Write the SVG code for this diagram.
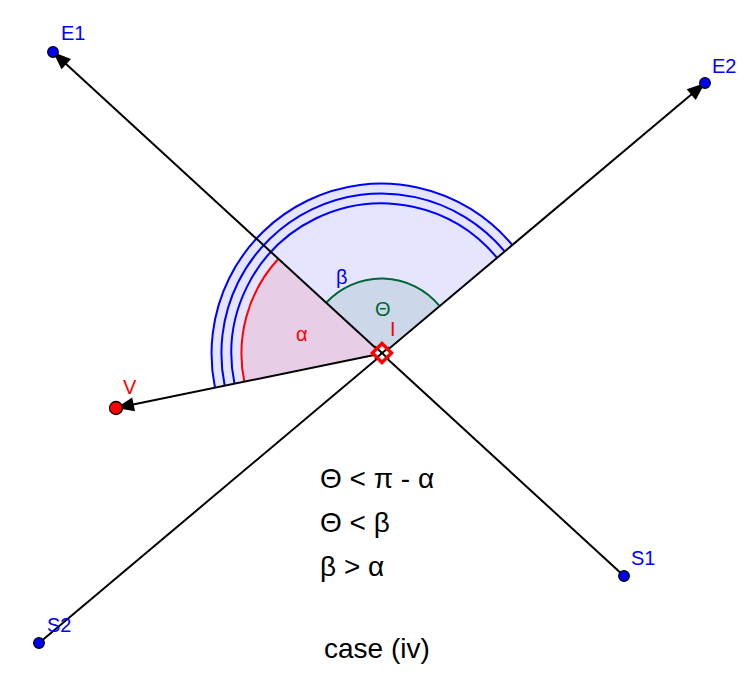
<svg xmlns="http://www.w3.org/2000/svg" width="755" height="690" viewBox="0 0 755 690">
<style>
.lbl{font-family:"Liberation Sans",Arial,sans-serif;font-size:20px}
.big{font-family:"Liberation Sans",Arial,sans-serif;font-size:28px;fill:#000}
.blue{fill:#0000ff}
.red{fill:#ff0000}
.green{fill:#006633}
.ln{stroke:#000;stroke-width:2;fill:none}
.pt{stroke:#000;stroke-width:1.3}
</style>
<defs>
<marker id="arr" markerUnits="userSpaceOnUse" markerWidth="20" markerHeight="14" refX="18" refY="7" orient="auto" overflow="visible">
<path d="M0,0 L18,7 L0,14 Z" fill="#000"/>
</marker>
</defs>
<rect width="755" height="690" fill="#fff"/>
<g id="angle-beta">
<path d="M381.5 353.5 L511.9 244.5 A170 170 0 0 0 215 387.7 Z" fill="#0000ff" fill-opacity="0.1"/>
<path d="M496.6 257.3 A150 150 0 0 0 234.5 383.7" fill="none" stroke="#0000ff" stroke-width="2"/>
<path d="M504.2 250.9 A160 160 0 0 0 224.7 385.7" fill="none" stroke="#0000ff" stroke-width="2"/>
<path d="M511.9 244.5 A170 170 0 0 0 215 387.7" fill="none" stroke="#0000ff" stroke-width="2"/>
<text class="lbl blue" x="336" y="284">β</text>
</g>
<g id="angle-alpha">
<path d="M381.5 353.5 L278.4 258.8 A140 140 0 0 0 244.3 381.7 Z" fill="#ff0000" fill-opacity="0.1"/>
<path d="M278.4 258.8 A140 140 0 0 0 244.3 381.7" fill="none" stroke="#ff0000" stroke-width="2"/>
<text class="lbl red" x="296" y="341">α</text>
</g>
<g id="angle-theta">
<path d="M381.5 353.5 L439 305.4 A75 75 0 0 0 326.2 302.8 Z" fill="#006633" fill-opacity="0.1"/>
<path d="M439 305.4 A75 75 0 0 0 326.2 302.8" fill="none" stroke="#006633" stroke-width="2"/>
<text class="lbl green" x="375" y="316">Θ</text>
</g>
<g id="connectors">
<line class="ln" x1="624" y1="576" x2="53" y2="52" marker-end="url(#arr)"/>
<line class="ln" x1="39" y1="643" x2="705" y2="83" marker-end="url(#arr)"/>
<line class="ln" x1="381.5" y1="353.5" x2="116" y2="408" marker-end="url(#arr)"/>
</g>
<g id="I">
<path d="M382 343.5 L391.5 353 L382 362.5 L372.5 353 Z" fill="#fff"/>
<line x1="375" y1="346.6" x2="389" y2="359.4" stroke="#000" stroke-width="2"/>
<line x1="389" y1="347.2" x2="375" y2="358.9" stroke="#000" stroke-width="2"/>
<path d="M382 343.5 L391.5 353 L382 362.5 L372.5 353 Z" fill="none" stroke="#ff0000" stroke-width="3.5"/>
<text class="lbl red" x="390" y="336">I</text>
</g>
<g id="E1">
<circle class="pt blue" cx="53" cy="52" r="5.3"/>
<text class="lbl blue" x="61" y="40">E1</text>
</g>
<g id="E2">
<circle class="pt blue" cx="705" cy="83" r="5.3"/>
<text class="lbl blue" x="712" y="73">E2</text>
</g>
<g id="S1">
<circle class="pt blue" cx="624" cy="576" r="5.3"/>
<text class="lbl blue" x="631" y="565">S1</text>
</g>
<g id="S2">
<circle class="pt blue" cx="39" cy="643" r="5.3"/>
<text class="lbl blue" x="47" y="632">S2</text>
</g>
<g id="V">
<circle class="pt red" cx="116" cy="408" r="6.5"/>
<text class="lbl red" x="123" y="394">V</text>
</g>
<g id="notes">
<text class="big" x="320" y="488">Θ &lt; π - α</text>
<text class="big" x="320" y="532">Θ &lt; β</text>
<text class="big" x="320" y="576">β &gt; α</text>
<text class="big" x="324" y="658">case (iv)</text>
</g>
</svg>
